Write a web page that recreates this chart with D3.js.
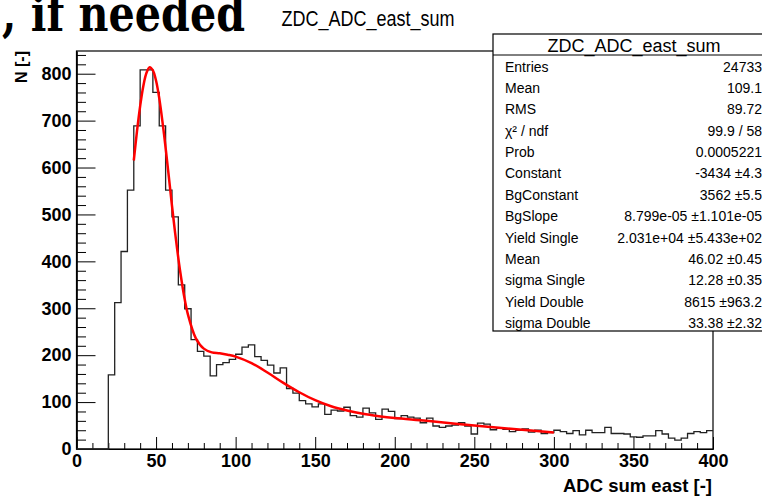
<!DOCTYPE html>
<html>
<head>
<meta charset="utf-8">
<script src="https://cdn.jsdelivr.net/npm/d3@7"></script>
<style>
  body { margin: 0; background: #fff; overflow: hidden; }
  svg { display: block; }
</style>
</head>
<body>
<script>
// histogram: 100 bins of width 4 between 0 and 400
var binWidth = 4;
var counts = [
  0, 0, 0, 0, 0, 158, 312, 421, 552, 689,
  808, 808, 760, 689, 552, 495, 350, 299, 233, 208,
  198, 156, 180, 184, 191, 202, 217, 222, 197, 189,
  179, 162, 173, 129, 119, 103, 96, 90, 96, 74,
  83, 81, 89, 71, 68, 87, 77, 63, 85, 80,
  65, 71, 68, 66, 56, 66, 49, 46, 49, 51,
  56, 49, 32, 55, 53, 41, 44, 42, 37, 40,
  43, 36, 40, 33, 35, 40, 37, 33, 39, 30,
  40, 35, 35, 46, 33, 33, 32, 26, 25, 28,
  28, 39, 32, 23, 19, 23, 33, 37, 35, 39
];

// fit curve
var fitX = [36, 38, 40, 42, 44, 46, 48, 50, 52, 55, 58, 60, 62, 65, 68, 70, 75, 80, 85, 90, 95,
            100, 110, 120, 130, 140, 150, 160, 170, 180, 190, 200, 220, 250, 280, 300];
var fitY = [615, 677, 731, 774, 802, 814, 807, 785, 748, 671, 581, 519, 460, 382, 319, 287, 236, 214, 206, 204, 201,
            197, 183, 163, 141, 121, 104, 91, 82, 75, 70, 66, 60, 50, 41, 35];

var histTitle = "ZDC_ADC_east_sum";
var statLabels = ["Entries", "Mean", "RMS", "\u03c7\u00b2 / ndf", "Prob", "Constant", "BgConstant", "BgSlope",
                  "Yield Single", "Mean", "sigma Single", "Yield Double", "sigma Double"];
var statValues = ["24733", "109.1", "89.72", "99.9 / 58", "0.0005221", "-3434 \u00b14.3", "3562 \u00b15.5",
                  "8.799e-05 \u00b11.101e-05", "2.031e+04 \u00b15.433e+02", "46.02 \u00b10.45", "12.28 \u00b10.35",
                  "8615 \u00b1963.2", "33.38 \u00b12.32"];

var width = 762, height = 497;
var frame = {left: 76.5, right: 713, top: 51, bottom: 449};

var svg = d3.select("body").append("svg")
  .attr("width", width)
  .attr("height", height);

var x = d3.scaleLinear().domain([0, 400]).range([frame.left, frame.right]);
var y = d3.scaleLinear().domain([0, d3.max(counts) * 1.05]).range([frame.bottom, frame.top]);

var axisFont = "'Liberation Sans', Arial, sans-serif";

// big cut-off text from the slide behind
svg.append("text")
  .attr("x", 2).attr("y", 31)
  .attr("textLength", 243).attr("lengthAdjust", "spacingAndGlyphs")
  .style("font-family", "'DejaVu Serif', serif")
  .style("font-weight", "bold")
  .style("font-size", "50px")
  .text(", if needed");

svg.append("text")
  .attr("x", 368).attr("y", 26)
  .attr("text-anchor", "middle")
  .attr("textLength", 173).attr("lengthAdjust", "spacingAndGlyphs")
  .style("font-family", axisFont)
  .style("font-size", "22px")
  .text(histTitle);

// frame
svg.append("rect")
  .attr("x", frame.left).attr("y", frame.top)
  .attr("width", frame.right - frame.left)
  .attr("height", frame.bottom - frame.top)
  .attr("fill", "none").attr("stroke", "#000").attr("stroke-width", 1.2);

// y axis
var yMajor = d3.range(0, 801, 100);
var yMinor = d3.range(0, y.domain()[1], 20).filter(function(v) { return v % 100 !== 0; });

var gy = svg.append("g").attr("transform", "translate(" + frame.left + ",0)");
gy.call(d3.axisLeft(y).tickValues(yMajor).tickSize(-19).tickSizeOuter(0).tickPadding(5));
gy.append("g").call(d3.axisLeft(y).tickValues(yMinor).tickSize(-9.5).tickSizeOuter(0).tickFormat(""));

// x axis
var xMajor = d3.range(0, 401, 50);
var xMinor = d3.range(0, 401, 10).filter(function(v) { return v % 50 !== 0; });

var gx = svg.append("g").attr("transform", "translate(0," + frame.bottom + ")");
gx.call(d3.axisBottom(x).tickValues(xMajor).tickSize(-12).tickSizeOuter(0).tickPadding(5));
gx.append("g").call(d3.axisBottom(x).tickValues(xMinor).tickSize(-6).tickSizeOuter(0).tickFormat(""));

svg.selectAll(".tick line").attr("stroke", "#000").attr("stroke-width", 1);
svg.selectAll(".domain").attr("stroke", "#000").attr("stroke-width", 1.2);
svg.selectAll(".tick text")
  .style("font-family", axisFont)
  .style("font-weight", "bold")
  .style("font-size", "18px")
  .attr("fill", "#000");

svg.append("text")
  .attr("transform", "translate(27," + frame.top + ") rotate(-90)")
  .attr("text-anchor", "end")
  .style("font-family", axisFont).style("font-weight", "bold").style("font-size", "16px")
  .text("N [-]");

svg.append("text")
  .attr("x", 712).attr("y", 492)
  .attr("text-anchor", "end")
  .style("font-family", axisFont).style("font-weight", "bold").style("font-size", "18.5px")
  .text("ADC sum east [-]");

// histogram outline
var histPts = counts.map(function(c, i) { return [i * binWidth, c]; });
histPts.push([counts.length * binWidth, counts[counts.length - 1]]);

svg.append("path")
  .datum(histPts)
  .attr("fill", "none")
  .attr("stroke", "#222")
  .attr("stroke-width", 1.3)
  .attr("d", d3.line()
    .x(function(d) { return x(d[0]); })
    .y(function(d) { return y(d[1]); })
    .curve(d3.curveStepAfter));

// fit
svg.append("path")
  .datum(d3.zip(fitX, fitY))
  .attr("fill", "none")
  .attr("stroke", "#ff0000")
  .attr("stroke-width", 2.5)
  .attr("d", d3.line()
    .x(function(d) { return x(d[0]); })
    .y(function(d) { return y(d[1]); })
    .curve(d3.curveCatmullRom));

// stats box
var box = {x: 493, y: 34, w: 290, h: 297, head: 21};
var sb = svg.append("g");
sb.append("rect")
  .attr("x", box.x).attr("y", box.y).attr("width", box.w).attr("height", box.h)
  .attr("fill", "#fff").attr("stroke", "#000").attr("stroke-width", 1.2);
sb.append("line")
  .attr("x1", box.x).attr("x2", box.x + box.w)
  .attr("y1", box.y + box.head).attr("y2", box.y + box.head)
  .attr("stroke", "#000").attr("stroke-width", 1);
sb.append("text")
  .attr("x", 634).attr("y", 51.5)
  .attr("text-anchor", "middle")
  .style("font-family", axisFont).style("font-size", "18px")
  .text(histTitle);

var rowY = d3.scaleLinear().domain([0, statLabels.length - 1]).range([71.5, 328]);

sb.selectAll("text.lab")
  .data(statLabels)
  .enter().append("text")
  .attr("class", "lab")
  .attr("x", 505)
  .attr("y", function(d, i) { return rowY(i); })
  .style("font-family", axisFont).style("font-size", "14px")
  .text(function(d) { return d; });

sb.selectAll("text.val")
  .data(statValues)
  .enter().append("text")
  .attr("class", "val")
  .attr("x", 762)
  .attr("y", function(d, i) { return rowY(i); })
  .attr("text-anchor", "end")
  .style("font-family", axisFont).style("font-size", "14px")
  .text(function(d) { return d; });
</script>
</body>
</html>
